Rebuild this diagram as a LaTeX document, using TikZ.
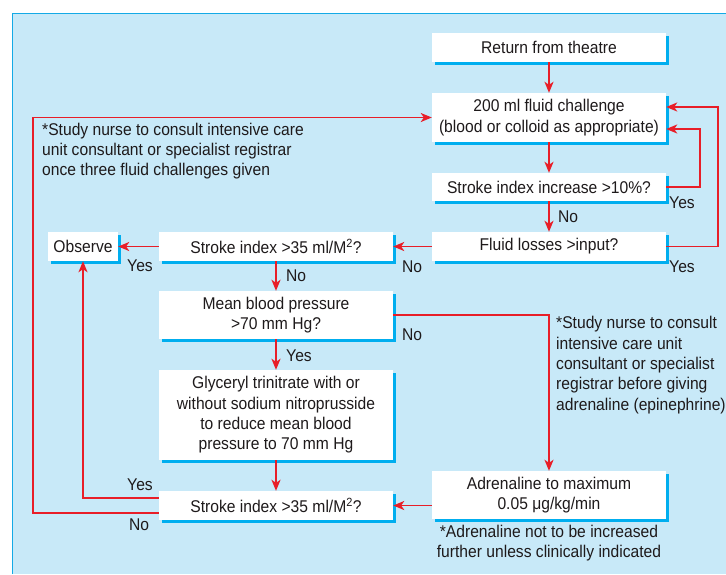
\documentclass[tikz,border=0pt]{standalone}
\usepackage{fontspec}
\setmainfont[FakeStretch=0.92]{Liberation Sans}
\usetikzlibrary{arrows.meta,shadows,calc}
\definecolor{bgblue}{RGB}{200,233,248}
\definecolor{edgeblue}{RGB}{20,170,230}
\definecolor{shcyan}{RGB}{0,174,239}
\definecolor{arrred}{RGB}{232,30,40}
\definecolor{txt}{RGB}{30,26,27}
\begin{document}
\begin{tikzpicture}[x=1pt,y=-1pt,
  every node/.style={font=\fontsize{17}{20.3}\selectfont, text=txt},
  box/.style={fill=white, minimum width=234pt, inner sep=0pt, align=center,
    drop shadow={shadow xshift=3pt,shadow yshift=-3pt,fill=shcyan,opacity=1}},
  arr/.style={draw=arrred, line width=1.7pt, -{Stealth[length=11pt,width=9pt,inset=3pt]}},
  lbl/.style={inner sep=0pt},
  note/.style={inner sep=0pt, align=left}]
\useasboundingbox (0,0) rectangle (726,574);
\fill[bgblue] (12.5,13.5) rectangle (726,574);
\draw[edgeblue, line width=1pt] (12.5,574) -- (12.5,13.5) -- (726,13.5);

% right column
\node[box, minimum height=29pt] (ret) at (549,47.5) {Return from theatre};
\node[box, minimum height=49pt] (fc) at (549,117.5) {200 ml fluid challenge\\(blood or colloid as appropriate)};
\node[box, minimum height=28pt] (si) at (549,187) {Stroke index increase >10\%?};
\node[box, minimum height=29pt] (fl) at (549,246.5) {Fluid losses >input?};
\node[box, minimum height=48pt] (adr) at (549,495) {Adrenaline to maximum\\0.05 μg/kg/min};

% middle column
\node[box, minimum width=70pt, minimum height=29pt] (obs) at (83,246.5) {Observe};
\node[box, minimum height=29pt] (st) at (276,246.5) {Stroke index >35 ml/M\textsuperscript{2}?};
\node[box, minimum height=48pt] (mbp) at (276,315) {Mean blood pressure\\>70 mm Hg?};
\node[box, minimum height=90pt] (gtn) at (276,415) {Glyceryl trinitrate with or\\without sodium nitroprusside\\to reduce mean blood\\pressure to 70 mm Hg};
\node[box, minimum height=29pt] (sb) at (276,505.5) {Stroke index >35 ml/M\textsuperscript{2}?};

% helper coordinates
\coordinate (r1) at (700,187);
\coordinate (r2) at (718,246.5);
\coordinate (nl) at (33,117.5);

% arrows
\draw[arr] (ret) -- (fc);
\draw[arr] (fc) -- (si);
\draw[arr] (si) -- (fl);
\draw[arr] (si.east) -- (r1) |- ([yshift=-11.5pt]fc.east);
\draw[arr] (fl.east) -- (r2) |- ([yshift=10.5pt]fc.east);
\draw[arr] (fl.west) -- (st.east);
\draw[arr] (st.west) -- (obs.east);
\draw[arr] (st) -- (mbp);
\draw[arr] (mbp) -- (gtn);
\draw[arr] (mbp.east) -| (adr.north);
\draw[arr] (gtn) -- (sb);
\draw[arr] (adr.west |- sb.east) -- (sb.east);
\draw[arr] ([yshift=7.5pt]sb.west) -| (obs.south);
\draw[arr] ([yshift=-7.5pt]sb.west) -| (nl) -- (fc.west);

% labels
\node[lbl, anchor=west] (l1) at (558,217) {No};
\node[lbl] (l2) at (682,203) {Yes};
\node[lbl] (l3) at (682,267) {Yes};
\node[lbl] (l4) at (412,267) {No};
\node[lbl] (l5) at (140,266) {Yes};
\node[lbl] (l6) at (296,276) {No};
\node[lbl] (l7) at (299,356) {Yes};
\node[lbl] (l8) at (412,335) {No};
\node[lbl] (l9) at (140,485) {Yes};
\node[lbl] (l10) at (139,525) {No};

% notes
\node[note, anchor=west] (n1) at (42,151) {*Study nurse to consult intensive care\\unit consultant or specialist registrar\\once three fluid challenges given};
\node[note, anchor=west] (n2) at (556,365) {*Study nurse to consult\\intensive care unit\\consultant or specialist\\registrar before giving\\adrenaline (epinephrine)};
\node[inner sep=0pt, align=center] (n3) at (549,543) {*Adrenaline not to be increased\\further unless clinically indicated};
\end{tikzpicture}
\end{document}
